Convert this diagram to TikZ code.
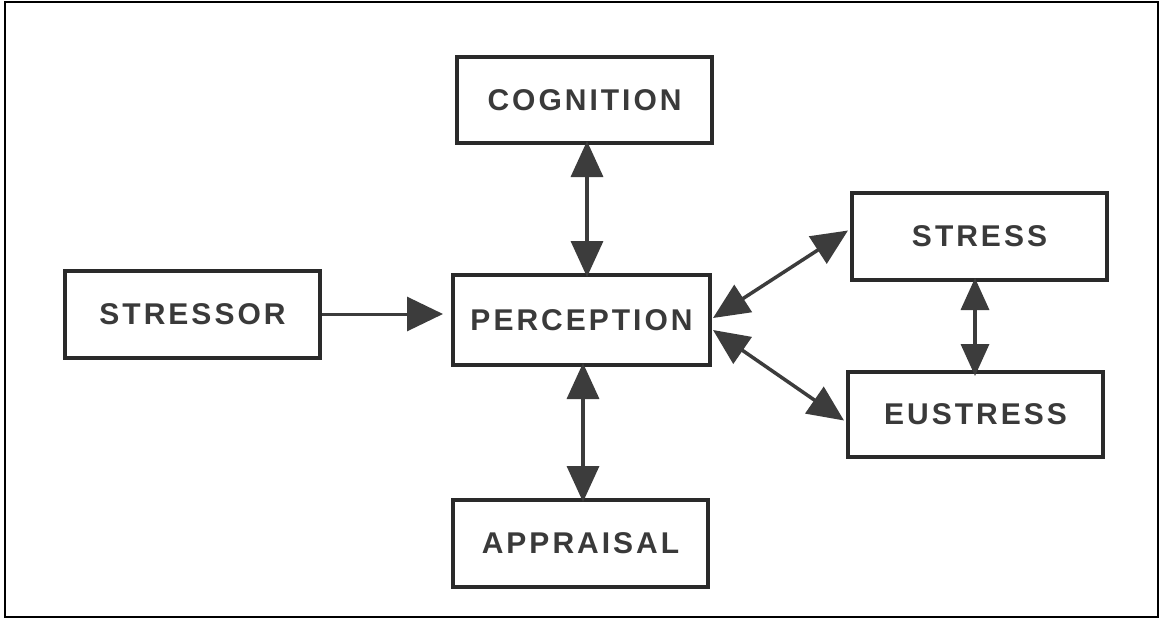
\documentclass[tikz,border=0pt]{standalone}
\usepackage{fontspec}
\usetikzlibrary{arrows.meta}
\newfontfamily\labfont[LetterSpace=10]{Liberation Sans}
\definecolor{ink}{HTML}{2A2A2A}
\definecolor{txt}{HTML}{3A3A3A}
\definecolor{arr}{HTML}{3C3C3C}
\tikzset{
  box/.style={draw=ink, line width=4pt, fill=white, inner sep=0pt, anchor=center,
              font=\labfont\bfseries\fontsize{30}{30}\selectfont, text=txt},
  biarrow/.style={draw=arr, line width=3.5pt,
     {Triangle[length=36pt,width=32pt]}-{Triangle[length=36pt,width=32pt]}},
  onearrow/.style={draw=arr, line width=3pt, -{Triangle[length=36pt,width=34pt]}},
}
\begin{document}
\begin{tikzpicture}[x=1pt,y=-1pt]
\useasboundingbox (0,0) rectangle (1160,619);
\fill[white] (0,0) rectangle (1160,619);
\draw[black, line width=2pt] (5,2) rectangle (1158,617);

\node[box, minimum width=255pt, minimum height=86pt] (cog) at (584.5,100) {COGNITION};
\node[box, minimum width=257pt, minimum height=90pt] (per) at (581.5,320) {PERCEPTION};
\node[box, minimum width=255pt, minimum height=87pt] (app) at (580.5,543.5) {APPRAISAL};
\node[box, minimum width=255pt, minimum height=87pt] (sor) at (192.5,314) {STRESSOR};
\node[box, minimum width=255pt, minimum height=87pt] (str) at (979.5,236.5) {STRESS};
\node[box, minimum width=255pt, minimum height=85pt] (eus) at (975.5,414.5) {EUSTRESS};

\coordinate (ax1) at (587,0);
\coordinate (ax2) at (583,0);
\coordinate (ax3) at (975,0);
\coordinate (pr1) at (713,318);
\coordinate (pr2) at (713,330);

\draw[biarrow] ([yshift=4pt]ax1 |- cog.south) -- ([yshift=-4pt]ax1 |- per.north);
\draw[biarrow] ([yshift=4pt]ax2 |- per.south) -- ([yshift=-4pt]ax2 |- app.north);
\draw[onearrow] (sor.east) -- ([xshift=-8pt]per.west |- sor.east);
\draw[biarrow] (pr1) -- ([xshift=-2pt,yshift=6pt]str.west);
\draw[biarrow] (pr2) -- ([xshift=-2pt,yshift=-6pt]eus.west);
\draw[draw=arr, line width=3.5pt,
     {Triangle[length=32pt,width=28pt]}-{Triangle[length=32pt,width=28pt]}]
     ([yshift=4pt]ax3 |- str.south) -- ([yshift=-6pt]ax3 |- eus.north);
\end{tikzpicture}
\end{document}
